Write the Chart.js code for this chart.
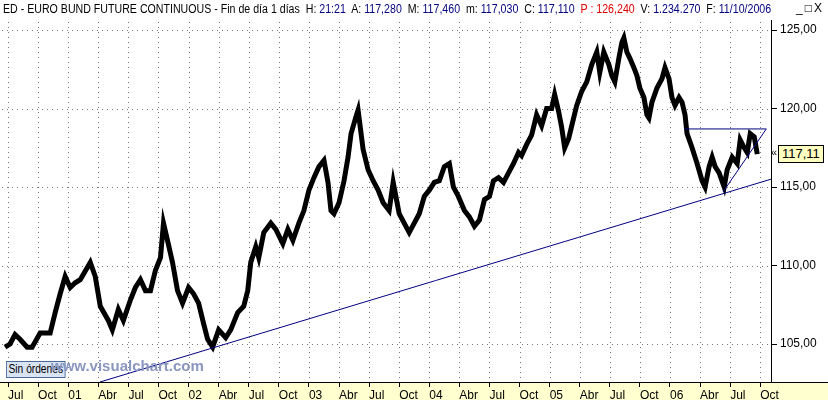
<!DOCTYPE html>
<html><head><meta charset="utf-8">
<script src="https://cdn.jsdelivr.net/npm/chart.js@4"></script>
<style>
body{margin:0;background:#fff;width:828px;height:400px;overflow:hidden;position:relative;font-family:"Liberation Sans",Arial,sans-serif}
#hdr{position:absolute;left:3px;top:2px;font-size:12px;white-space:nowrap;color:#000;transform:scaleX(0.885);transform-origin:0 0;background:#fff}
#hdr b{font-weight:normal;color:#000080}
#hdr .r{color:#e00000}
#btn{position:absolute;right:4px;top:1px;font-size:12px;letter-spacing:2px;background:#fff}
#wrap{position:absolute;left:0;top:0;width:828px;height:400px}
#band{position:absolute;left:0;top:382px;width:828px;height:18px;background:#ffffd0}
#sin{position:absolute;left:6px;top:361px;font-size:12px;background:#d8e4f4;border:1px solid #4a6a9a;padding:0 2px;line-height:15px;transform:scaleX(0.85);transform-origin:0 0}
#wm{position:absolute;left:51px;top:357px;font:bold 15px "Liberation Sans",Arial,sans-serif;color:#8a96c0}
#lastp{position:absolute;left:778px;top:145px;font-size:13px;background:#ffffc0;border:1px solid #000;padding:0 3px;line-height:16px}
#arr{position:absolute;left:771px;top:146px;font-size:11px}
</style></head><body>
<div id="band"></div>
<div id="wrap"><canvas id="c" width="828" height="400"></canvas></div>
<div id="hdr">ED - EURO BUND FUTURE CONTINUOUS - Fin de día 1 días&nbsp; H: <b>21:21</b>&nbsp; A: <b>117,280</b>&nbsp; M: <b>117,460</b>&nbsp; m: <b>117,030</b>&nbsp; C: <b>117,110</b>&nbsp; <span class="r">P : 126,240</span>&nbsp; V: <b>1.234.270</b>&nbsp; F: <b>11/10/2006</b></div>
<div id="btn">_□X</div>
<div id="sin">Sin órdenes</div>
<div id="wm">www.visualchart.com</div>
<div id="arr">«</div>
<div id="lastp">117,11</div>
<script>
// months since Jul 2000
const months=[-0.3,0.2,0.7,1.2,1.9,2.4,3.2,4.2,4.7,5.2,5.7,6.2,6.7,7.2,8.2,8.7,9.2,10.0,10.4,11.0,11.5,12.2,12.7,13.2,13.7,14.2,14.7,15.2,15.5,15.9,16.4,16.9,17.4,18.0,18.5,19.0,19.5,19.9,20.4,21.0,21.7,22.2,22.9,23.5,23.9,24.2,24.7,25.0,
25.5,26.2,26.7,27.4,27.9,28.4,29.0,29.5,30.0,30.5,31.0,31.5,31.9,32.2,32.5,33.0,33.5,33.9,34.2,34.7,34.9,35.2,35.4,35.9,36.4,36.9,37.4,38.0,38.4,39.0,39.5,40.0,40.5,41.0,41.5,42.0,42.5,43.0,43.5,44.0,44.4,44.9,45.5,46.0,46.5,47.0,47.5,48.0,48.4,48.9,49.4,49.9,50.4,50.9,
51.2,51.7,52.2,52.7,53.2,53.7,54.2,54.5,54.9,55.2,55.5,55.9,56.2,56.7,57.2,57.7,58.2,58.7,59.0,59.4,59.9,60.2,60.5,60.9,61.2,61.4,61.7,62.0,62.4,62.7,63.0,63.4,63.7,63.9,64.2,64.7,65.2,65.5,65.9,66.2,66.5,66.9,67.2,67.5,67.7,
68.2,68.7,69.2,69.5,69.9,70.2,70.5,70.9,71.4,71.7,72.2,72.7,73.0,73.4,73.7,74.0,74.4,74.7];
const prices=[104.8,105.0,105.6,105.3,104.8,104.8,105.7,105.7,107.0,108.2,109.3,108.6,108.9,109.1,110.2,109.3,107.4,106.5,105.9,107.2,106.5,107.8,108.6,109.1,108.4,108.4,109.7,110.5,112.7,111.6,110.2,108.4,107.6,108.6,108.2,107.6,106.3,105.3,104.8,105.9,105.4,105.9,107.0,107.4,108.4,110.2,111.2,110.5,
112.1,112.7,112.3,111.4,112.3,111.6,112.7,113.5,114.8,115.6,116.3,116.7,115.3,113.5,113.3,114.0,115.4,116.9,118.4,119.5,119.9,118.4,117.4,116.1,115.4,114.8,114.0,113.5,115.3,113.3,112.7,112.1,112.7,113.3,114.4,114.8,115.3,115.4,116.3,116.5,115.0,114.4,113.5,113.1,112.5,112.9,114.2,114.4,115.4,115.6,115.3,115.9,116.5,117.2,
117.0,117.7,118.3,119.6,118.9,120.0,120.0,120.9,119.8,118.8,117.5,118.1,118.9,120.2,121.1,121.7,122.8,123.6,122.3,123.6,122.8,122.1,121.7,123.2,124.2,124.5,123.6,123.2,122.6,122.1,121.3,120.7,119.6,119.4,120.4,121.3,121.9,122.6,121.9,120.7,120.2,120.7,120.4,119.6,118.4,
117.5,116.5,115.4,115.0,116.3,116.9,116.3,115.9,115.0,116.1,116.9,116.5,118.0,117.5,117.2,118.4,118.2,117.1];
const tickLabels=['Jul','Oct','01','Abr','Jul','Oct','02','Abr','Jul','Oct','03','Abr','Jul','Oct','04','Abr','Jul','Oct','05','Abr','Jul','Oct','06','Abr','Jul','Oct'];
const yTicks=[105,110,115,120,125];
const trendX=[9.17,76.07], trendY=[102.58,115.5];
const topX=[67.4,75.6], topY=[118.7,118.7];
const riseX=[71.3,75.6], riseY=[114.7,118.7];

const pts=(xs,ys)=>xs.map((x,i)=>({x,y:ys[i]}));
const line=(xs,ys)=>({data:pts(xs,ys),borderColor:'#000080',borderWidth:1,pointRadius:0,tension:0});
new Chart(document.getElementById('c'),{
 type:'line',
 data:{datasets:[
  line(trendX,trendY),line(topX,topY),line(riseX,riseY),
  {data:pts(months,prices),borderColor:'#000',borderWidth:5,pointRadius:0,tension:0,borderJoinStyle:'miter'}]},
 options:{responsive:false,animation:false,devicePixelRatio:1,
  layout:{padding:{top:20,left:0,right:0,bottom:0}},
  plugins:{legend:{display:false},tooltip:{enabled:false}},
  scales:{
   x:{type:'linear',min:-0.8,max:76.07,
     afterBuildTicks:a=>{a.ticks=tickLabels.map((_,i)=>({value:i*3}));},
     afterFit:a=>{a.height=18;},
     ticks:{autoSkip:false,maxRotation:0,align:'start',padding:1,color:'#000',font:{size:12},callback:(v,i)=>tickLabels[i]},
     grid:{drawOnChartArea:false,tickLength:5,tickColor:'#000'},border:{display:false}},
   y:{position:'right',min:102.58,max:125.64,
     afterBuildTicks:a=>{a.ticks=yTicks.map(v=>({value:v}));},
     afterFit:a=>{a.width=57;},
     ticks:{color:'#000',padding:3,font:{size:12},callback:v=>v.toFixed(2).replace('.',',')},
     grid:{drawOnChartArea:false,tickLength:6,tickColor:'#000'},border:{display:false}}
  }},
 plugins:[{id:'grid',beforeDatasetsDraw(ch){const c=ch.ctx,a=ch.chartArea,xs=ch.scales.x,ys=ch.scales.y;c.save();c.fillStyle='#777';
   xs.ticks.forEach(t=>{const x=Math.round(xs.getPixelForValue(t.value));for(let y=a.top+2;y<a.bottom;y+=5)c.fillRect(x,y,1,1);});
   ys.ticks.forEach(t=>{const y=Math.round(ys.getPixelForValue(t.value));for(let x=a.left+2;x<a.right;x+=5)c.fillRect(x,y,1,1);});
   c.restore();},
  afterDraw(ch){const c=ch.ctx,a=ch.chartArea;c.save();c.strokeStyle='#000';c.lineWidth=1;
   c.beginPath();c.moveTo(a.right+0.5,a.top);c.lineTo(a.right+0.5,a.bottom);c.moveTo(0,a.bottom+0.5);c.lineTo(828,a.bottom+0.5);c.stroke();c.restore();}}]
});
</script></body></html>
